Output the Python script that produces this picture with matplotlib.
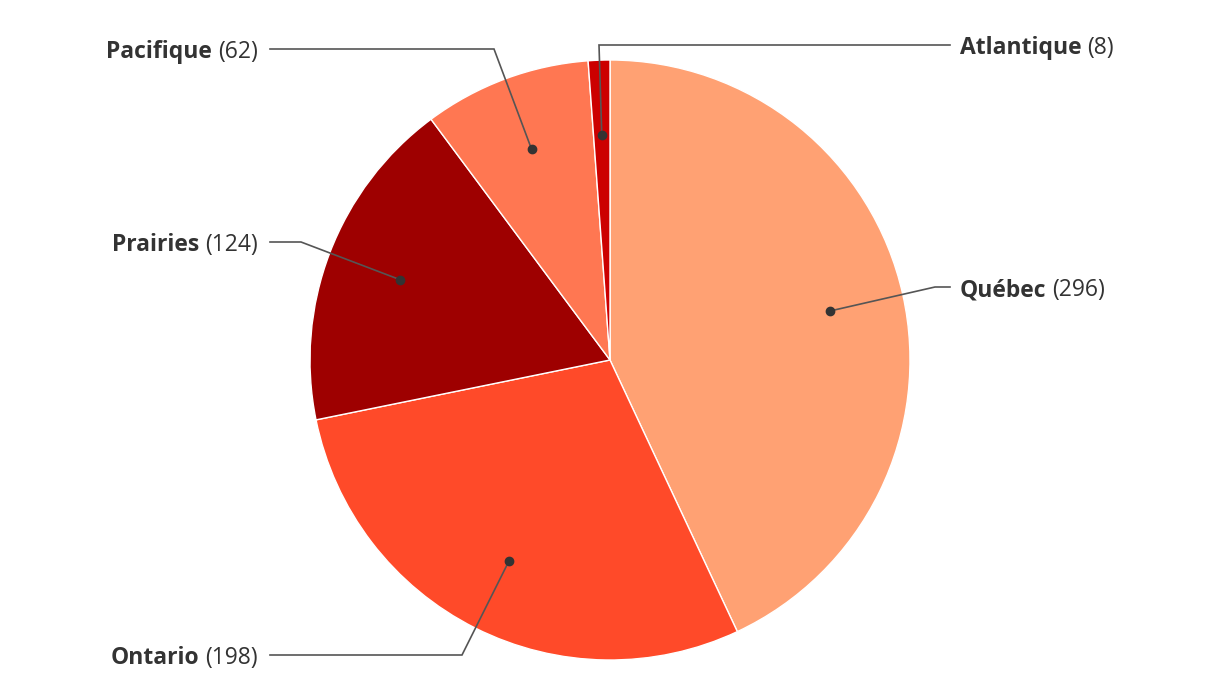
import matplotlib
matplotlib.use("Agg")
import matplotlib.pyplot as plt
import numpy as np

# ---- data ----
regions = ["Québec", "Ontario", "Prairies", "Pacifique", "Atlantique"]
counts = [296, 198, 124, 62, 8]
colors = ["#FFA173", "#FF4A29", "#9E0000", "#FF7752", "#CC0000"]

# ---- layout (pixel coordinates, y measured from top) ----
W, H = 1220, 700
CX, CY, R = 610, 360, 300
elbows = [(935, 287), (462, 655), (301, 242), (494, 49), (599, 45)]
sides = ["right", "left", "left", "left", "right"]
LINE_END_L, LINE_END_R = 270, 950
TEXT_L, TEXT_R = 258, 960

plt.rcParams['font.family'] = ['Open Sans', 'DejaVu Sans']
fig = plt.figure(figsize=(W / 100, H / 100), dpi=100)
ax = fig.add_axes([0, 0, 1, 1])

def py(y):
    return H - y

wedges, _ = ax.pie(counts, colors=colors, startangle=90, counterclock=False,
                   center=(CX, py(CY)), radius=R,
                   wedgeprops=dict(edgecolor="white", linewidth=1.0))
ax.set_xlim(0, W)
ax.set_ylim(0, H)
ax.set_aspect("equal")
ax.axis("off")

text_color = "#333333"
line_color = "#555555"
fs = 16.5

fig.canvas.draw()
renderer = fig.canvas.get_renderer()

for w, name, val, (ex, ey), side in zip(wedges, regions, counts, elbows, sides):
    mid = np.deg2rad((w.theta1 + w.theta2) / 2)
    dx = CX + 0.75 * R * np.cos(mid)
    dy = py(CY) + 0.75 * R * np.sin(mid)
    end_x = LINE_END_R if side == "right" else LINE_END_L
    ax.plot([dx, ex, end_x], [dy, py(ey), py(ey)], color=line_color, lw=1.2,
            solid_joinstyle="miter", zorder=3)
    ax.plot([dx], [dy], marker="o", ms=6, color="#333333", zorder=4)
    ty = py(ey) - 3
    if side == "right":
        t1 = ax.text(TEXT_R, ty, name, fontsize=fs, fontweight="bold",
                     color=text_color, ha="left", va="center")
        bb = t1.get_window_extent(renderer)
        ax.text(bb.x1 + 6, ty, f"({val})", fontsize=fs, color=text_color,
                ha="left", va="center")
    else:
        t2 = ax.text(TEXT_L, ty, f"({val})", fontsize=fs, color=text_color,
                     ha="right", va="center")
        bb = t2.get_window_extent(renderer)
        ax.text(bb.x0 - 6, ty, name, fontsize=fs, fontweight="bold",
                color=text_color, ha="right", va="center")

fig.savefig("out.png", dpi=100)
